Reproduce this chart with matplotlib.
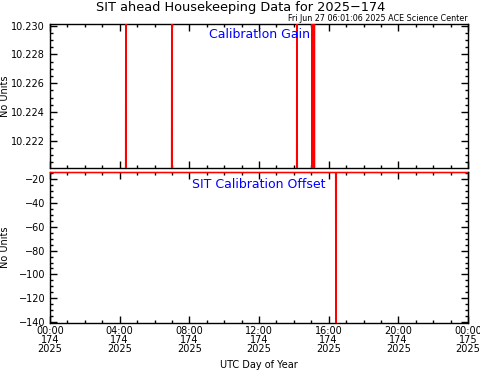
import matplotlib.pyplot as plt
from matplotlib.ticker import MultipleLocator

# hours of day 174, 2025
gain_hours = [0.0, 4.35, 4.36, 4.37, 6.99, 7.00, 7.01, 14.17, 14.18, 14.19,
              15.04, 15.05, 15.06, 15.16, 15.17, 15.18, 24.0]
gain_vals = [10.2190, 10.2190, 10.2320, 10.2190, 10.2190, 10.2320, 10.2190,
             10.2190, 10.2320, 10.2190, 10.2190, 10.2320, 10.2190,
             10.2190, 10.2320, 10.2190, 10.2190]

offset_hours = [0.0, 16.41, 16.42, 16.43, 24.0]
offset_vals = [-14.0, -14.0, -150.0, -14.0, -14.0]

tick_hours = [0, 4, 8, 12, 16, 20, 24]
tick_labels = ["00:00\n174\n2025", "04:00\n174\n2025", "08:00\n174\n2025",
               "12:00\n174\n2025", "16:00\n174\n2025", "20:00\n174\n2025",
               "00:00\n175\n2025"]

plt.rcParams["font.family"] = "DejaVu Sans"

fig = plt.figure(figsize=(4.81, 3.71), dpi=100)
ax1 = fig.add_axes([0.104, 0.547, 0.869, 0.388])
ax2 = fig.add_axes([0.104, 0.129, 0.869, 0.407])


def style(ax):
    ax.set_xlim(0, 24)
    ax.xaxis.set_major_locator(MultipleLocator(4))
    ax.xaxis.set_minor_locator(MultipleLocator(1))
    ax.tick_params(which="both", direction="in", top=True, right=True,
                   labelsize=7, width=1.0)
    ax.tick_params(which="major", length=5)
    ax.tick_params(which="minor", length=2.5)
    ax.tick_params(axis="x", pad=2)
    ax.yaxis.set_label_coords(-0.095, 0.5)
    for s in ax.spines.values():
        s.set_linewidth(1.0)


ax1.plot(gain_hours, gain_vals, color="red", linewidth=1.3, zorder=3)
style(ax1)
ax1.set_ylim(10.2201, 10.2301)
ax1.yaxis.set_major_locator(MultipleLocator(0.002))
ax1.yaxis.set_minor_locator(MultipleLocator(0.0005))
ax1.yaxis.set_major_formatter(plt.FormatStrFormatter("%.3f"))
ax1.set_xticks(tick_hours)
ax1.set_xticklabels([])
ax1.set_ylabel("No Units", fontsize=7)
ax1.text(0.5, 0.93, "Calibration Gain", transform=ax1.transAxes,
         color="blue", fontsize=9, ha="center", va="center")

ax2.plot(offset_hours, offset_vals, color="red", linewidth=1.3, zorder=3)
style(ax2)
ax2.set_ylim(-141, -14)
ax2.yaxis.set_major_locator(MultipleLocator(20))
ax2.yaxis.set_minor_locator(MultipleLocator(5))
ax2.yaxis.set_major_formatter(plt.FuncFormatter(lambda v, p: f"\u2212{abs(int(v))}"))
ax2.set_xticks(tick_hours)
ax2.set_xticklabels(tick_labels, fontsize=7, linespacing=0.85)
ax2.set_ylabel("No Units", fontsize=7)
ax2.set_xlabel("UTC Day of Year", fontsize=7, labelpad=5)
ax2.text(0.5, 0.92, "SIT Calibration Offset", transform=ax2.transAxes,
         color="blue", fontsize=9, ha="center", va="center")

fig.text(0.5, 0.981, "SIT ahead Housekeeping Data for 2025\u2212174",
         ha="center", va="center", fontsize=9.3)
fig.text(0.973, 0.938, "Fri Jun 27 06:01:06 2025 ACE Science Center",
         ha="right", va="bottom", fontsize=5.8)

fig.savefig("out.png", dpi=100)
